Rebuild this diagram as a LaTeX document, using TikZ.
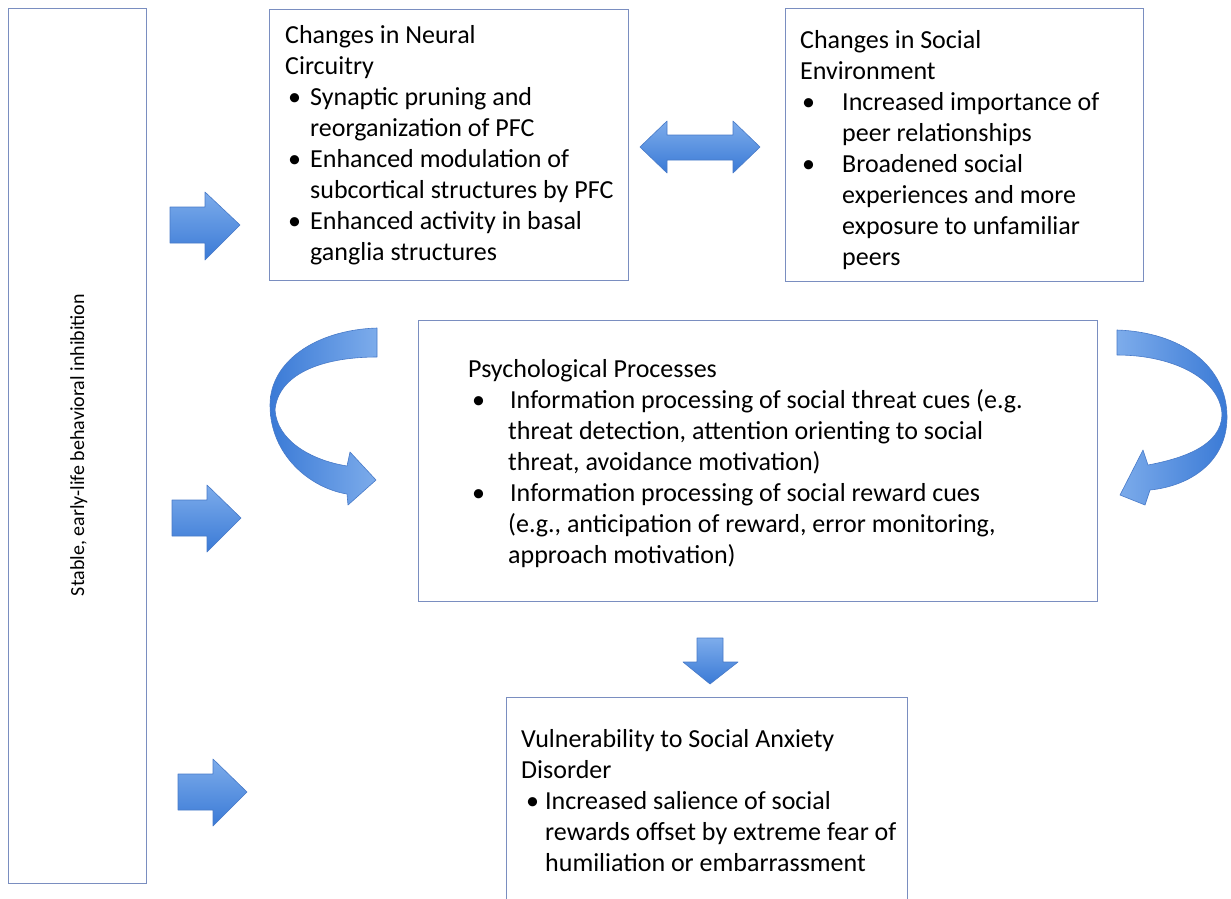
\documentclass[tikz,border=0pt]{standalone}
\usepackage{fontspec}
\setmainfont{Carlito}
\definecolor{boxcol}{RGB}{122,142,192}
\definecolor{arrowlight}{RGB}{125,172,235}
\definecolor{arrowdark}{RGB}{58,122,214}
\definecolor{arrowedge}{RGB}{72,122,200}
\newcommand{\bl}[2]{\makebox[#2][l]{\hspace{#1}\textbullet}}
\begin{document}
\begin{tikzpicture}[x=1pt,y=-1pt,
  box/.style={draw=boxcol, line width=1.4pt, fill=white, anchor=north west, inner sep=0pt},
  txt/.style={anchor=base west, inner sep=0pt, font=\fontsize{26}{31}\selectfont},
  barrow/.style={draw=arrowedge, line width=0.6pt, top color=arrowlight, bottom color=arrowdark, line join=round}]
\useasboundingbox (0,0) rectangle (1231,898);

% boxes
\node[box, minimum width=138pt, minimum height=875pt] (left) at (8,8) {};
\node[box, minimum width=359pt, minimum height=271pt] (neural) at (269,9) {};
\node[box, minimum width=358pt, minimum height=273pt] (social) at (785,8) {};
\node[box, minimum width=679pt, minimum height=281pt] (psych) at (418,320) {};
\node[box, minimum width=401pt, minimum height=230pt] (vuln) at (506,697) {};

% vertical text
\node[anchor=base, inner sep=0pt, rotate=90, font=\fontsize{20}{24}\selectfont] (lefttxt) at (84,445) {Stable, early-life behavioral inhibition};

% box texts
\node[txt] (neuraltxt) at (285,43) {\begin{tabular}[t]{@{}l@{}}
Changes in Neural\\
Circuitry\\
\bl{3pt}{25pt}Synaptic pruning and\\
\hspace{25pt}reorganization of PFC\\
\bl{3pt}{25pt}Enhanced modulation of\\
\hspace{25pt}subcortical structures by PFC\\
\bl{3pt}{25pt}Enhanced activity in basal\\
\hspace{25pt}ganglia structures
\end{tabular}};

\node[txt] (socialtxt) at (800,48) {\begin{tabular}[t]{@{}l@{}}
Changes in Social\\
Environment\\
\bl{2pt}{42pt}Increased importance of\\
\hspace{42pt}peer relationships\\
\bl{2pt}{42pt}Broadened social\\
\hspace{42pt}experiences and more\\
\hspace{42pt}exposure to unfamiliar\\
\hspace{42pt}peers
\end{tabular}};

\node[txt] (psychtxt) at (468,377) {\begin{tabular}[t]{@{}l@{}}
Psychological Processes\\
\bl{4pt}{42pt}Information processing of social threat cues (e.g.\\
\hspace{40pt}threat detection, attention orienting to social\\
\hspace{40pt}threat, avoidance motivation)\\
\bl{4pt}{42pt}Information processing of social reward cues\\
\hspace{40pt}(e.g., anticipation of reward, error monitoring,\\
\hspace{40pt}approach motivation)
\end{tabular}};

\node[txt] (vulntxt) at (521,747) {\begin{tabular}[t]{@{}l@{}}
Vulnerability to Social Anxiety\\
Disorder\\
\bl{5pt}{24pt}Increased salience of social\\
\hspace{24pt}rewards offset by extreme fear of\\
\hspace{24pt}humiliation or embarrassment
\end{tabular}};

% right block arrows
\path[barrow] (170,207) -- (205,207) -- (205,192) -- (240,225) -- (205,260) -- (205,243) -- (170,243) -- cycle;
\path[barrow] (172,500) -- (207,500) -- (207,485) -- (241,518) -- (207,552) -- (207,536) -- (172,536) -- cycle;
\path[barrow] (178,774) -- (213,774) -- (213,759) -- (247,792) -- (213,826) -- (213,810) -- (178,810) -- cycle;

% double arrow
\path[barrow] (640,147) -- (667,121) -- (667,135) -- (733,135) -- (733,121) -- (760,147) -- (733,173) -- (733,160) -- (667,160) -- (667,173) -- cycle;

% down arrow
\path[barrow] (697,638) -- (723,638) -- (723,662) -- (738,662) -- (710,684) -- (683,662) -- (697,662) -- cycle;

% curved arrows
\path[barrow, left color=arrowdark, right color=arrowlight] (377,328) .. controls (315,330) and (270,362) .. (270,405)
  .. controls (270,455) and (310,488) .. (347,494) -- (348,505) -- (376,480) -- (350,452) -- (347,466)
  .. controls (310,460) and (277,440) .. (275,410)
  .. controls (278,375) and (320,357) .. (377,357) -- cycle;
\path[barrow, left color=arrowlight, right color=arrowdark] (1117,330) .. controls (1180,332) and (1227,365) .. (1227,417)
  .. controls (1227,462) and (1190,486) .. (1150,490) -- (1145,505) -- (1120,495) -- (1143,450) -- (1148,465)
  .. controls (1185,458) and (1221,445) .. (1222,415)
  .. controls (1221,380) and (1175,355) .. (1117,355) -- cycle;
\end{tikzpicture}
\end{document}
